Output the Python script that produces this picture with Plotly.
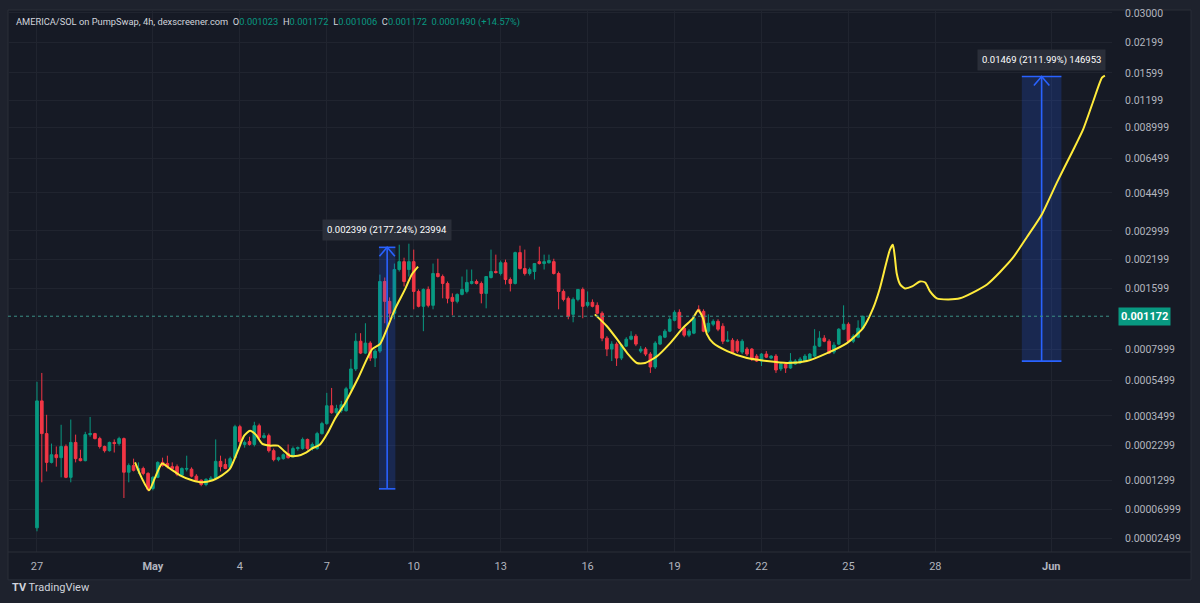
import math
import numpy as np
import pandas as pd
import plotly.graph_objects as go

# AMERICA/SOL 4h candles, prices in micro-SOL (1e-6)
START = pd.Timestamp("2025-04-27 00:00")
UNIT = 1e-6
OFFSET = 0.0001  # TradingView log scale behaves like log(price + offset)

open_u = [40, 426, 274, 177, 200, 191, 227, 137, 241, 188,
          182, 270, 274, 255, 227, 213, 241, 237, 255, 150,
          168, 155, 160, 147, 111, 137, 177, 174, 165, 165,
          142, 158, 158, 140, 130, 120, 130, 135, 180, 171,
          163, 191, 302, 234, 244, 234, 306, 259, 266, 213,
          185, 188, 204, 194, 220, 220, 252, 220, 220, 274,
          315, 400, 365, 375, 375, 497, 634, 880, 766, 861,
          722, 784, 1727, 1385, 1212, 1970, 2147, 1970, 2147, 1547,
          1310, 1582, 1325, 1886, 1824, 1690, 1448, 1385, 1497, 1547,
          1690, 1727, 1690, 1514, 1805, 1927, 1886, 2122, 1765, 1690,
          2369, 1991, 1886, 1927, 2147, 2103, 2122, 2147, 1886, 1547,
          1433, 1197, 1416, 1582, 1325, 1370, 1325, 1212, 912, 803,
          851, 722, 831, 901, 933, 784, 803, 757, 649, 851,
          922, 988, 1119, 1225, 1023, 944, 966, 1267, 1238, 988,
          1070, 1106, 1046, 880, 890, 880, 775, 803, 803, 739,
          697, 757, 722, 739, 634, 673, 641, 673, 681, 697,
          713, 739, 831, 912, 880, 775, 851, 1011, 1070, 880,
          922, 1023]
high_u = [542, 604, 355, 237, 227, 310, 234, 333, 270, 216,
          281, 345, 277, 262, 230, 244, 252, 262, 259, 174,
          188, 177, 165, 150, 140, 180, 191, 197, 177, 171,
          163, 197, 163, 145, 132, 135, 140, 252, 197, 188,
          194, 310, 310, 248, 262, 323, 315, 277, 274, 220,
          194, 204, 234, 227, 227, 259, 255, 241, 281, 323,
          472, 502, 405, 426, 509, 713, 966, 966, 1082, 880,
          803, 1863, 1805, 1448, 2103, 2581, 2242, 2610, 2448, 1582,
          1600, 1635, 2103, 2217, 1865, 1727, 1514, 1514, 1824, 1970,
          1970, 1765, 1727, 1824, 2448, 2318, 2172, 2196, 1805, 2394,
          2554, 2448, 2012, 2103, 2527, 2318, 2318, 2217, 1927, 1582,
          1464, 1448, 1582, 1617, 1547, 1416, 1370, 1238, 933, 880,
          870, 851, 922, 988, 955, 831, 822, 775, 880, 944,
          1011, 1158, 1253, 1267, 1046, 1011, 1171, 1325, 1267, 1197,
          1132, 1132, 1082, 988, 912, 901, 901, 822, 812, 757,
          766, 784, 748, 757, 689, 689, 766, 713, 730, 757,
          766, 1011, 988, 944, 901, 870, 1023, 1325, 1094, 955,
          1119, 1172]
low_u = [35, 125, 152, 174, 165, 137, 135, 125, 177, 180,
         180, 262, 252, 220, 207, 210, 207, 230, 91, 125,
         152, 145, 142, 105, 107, 135, 165, 160, 158, 140,
         140, 152, 137, 128, 116, 116, 128, 130, 152, 158,
         158, 188, 234, 223, 230, 227, 252, 255, 207, 180,
         180, 185, 188, 191, 213, 216, 216, 213, 216, 270,
         310, 360, 350, 365, 370, 484, 618, 757, 757, 697,
         649, 767, 1082, 1132, 1132, 1927, 1635, 1824, 1267, 1295,
         988, 1295, 1267, 1805, 1433, 1355, 1184, 1355, 1481, 1514,
         1672, 1672, 1355, 1281, 1785, 1886, 1845, 1672, 1547, 1672,
         1970, 1845, 1845, 1765, 2080, 1970, 2103, 1865, 1267, 1385,
         1132, 1094, 1385, 1145, 1295, 1295, 1197, 880, 739, 697,
         657, 705, 822, 890, 831, 766, 739, 604, 634, 841,
         912, 977, 1106, 1011, 922, 922, 955, 1225, 977, 966,
         1046, 988, 851, 870, 757, 766, 757, 739, 697, 689,
         657, 722, 713, 604, 618, 604, 634, 665, 673, 689,
         705, 730, 822, 870, 757, 757, 841, 1000, 870, 861,
         912, 1006]
close_u = [426, 274, 177, 200, 191, 227, 137, 241, 188, 182,
           270, 274, 255, 227, 213, 241, 237, 255, 150, 168,
           155, 160, 147, 109, 137, 177, 168, 165, 160, 145,
           160, 160, 140, 130, 120, 132, 135, 180, 165, 160,
           188, 302, 244, 241, 234, 306, 259, 266, 213, 185,
           191, 200, 191, 220, 223, 252, 220, 234, 274, 315,
           400, 365, 385, 405, 497, 634, 880, 766, 861, 722,
           784, 1727, 1385, 1212, 1970, 2147, 1727, 2147, 1547, 1310,
           1582, 1325, 1886, 1824, 1690, 1433, 1385, 1497, 1582, 1709,
           1727, 1690, 1514, 1824, 1927, 1906, 2122, 1765, 1690, 2369,
           1991, 1886, 1970, 2103, 2103, 2147, 2172, 1886, 1547, 1416,
           1171, 1416, 1582, 1310, 1370, 1310, 1212, 912, 803, 851,
           722, 841, 901, 933, 851, 803, 757, 649, 861, 933,
           988, 1132, 1225, 1023, 944, 988, 1145, 1238, 988, 1082,
           1106, 1011, 880, 890, 766, 784, 880, 757, 713, 697,
           757, 730, 739, 626, 673, 641, 697, 697, 713, 739,
           757, 831, 912, 880, 766, 841, 1011, 1070, 880, 933,
           1023, 1172]

# hand-drawn yellow projection lines: x in 4h-bar units from START, price in micro-SOL
curve1_bar = [20.3, 21.7, 23.2, 24.4, 25.9, 27.5, 29.6, 32.1, 34.2, 36.4,
              38.3, 40.0, 41.6, 42.9, 44.1, 45.3, 46.6, 48.2, 49.9, 51.1,
              52.4, 54.0, 55.7, 56.9, 58.6, 60.2, 61.7, 63.8, 66.5, 69.4,
              71.0, 72.0, 74.1, 76.2, 77.6, 78.9]
curve1_u = [177, 135, 107, 135, 174, 160, 142, 130, 125, 130,
            142, 160, 213, 266, 285, 270, 237, 230, 230, 213,
            197, 197, 207, 220, 234, 277, 337, 415, 568, 803,
            851, 955, 1267, 1582, 1865, 2034]
curve2_bar = [115.5, 118.0, 120.1, 122.2, 124.2, 125.9, 128.4, 131.1, 133.7, 135.8,
              136.9, 137.9, 138.7, 140.0, 142.9, 147.0, 151.1, 155.3, 159.4, 163.6,
              167.7, 171.0, 173.1, 174.5, 175.8, 176.6, 177.2, 177.6, 178.0, 178.7,
              179.7, 181.2, 182.8, 183.9, 184.9, 186.3, 188.6, 191.1, 196.7, 201.9,
              205.0, 208.1, 211.2, 214.3, 216.6, 218.6, 220.5, 221.1]
curve2_u = [1197, 1046, 901, 766, 681, 681, 739, 861, 1023, 1145,
            1253, 1145, 955, 861, 784, 722, 697, 681, 697, 766,
            861, 1023, 1281, 1600, 2103, 2448, 2581, 2267, 1886, 1672,
            1600, 1635, 1727, 1709, 1547, 1433, 1416, 1433, 1672, 2217,
            2813, 3598, 5052, 6937, 8830, 11717, 15212, 15537]

# price range measurements (bar units for x, SOL for prices)
measure_bars = [(70.8, 72.5, 74.2), (203.9, 208.0, 212.1)]
measure_low = [0.0001102, 0.000696]
measure_high = [0.0025092, 0.015386]
measure_text = ["0.002399 (2177.24%) 23994", "0.01469 (2111.99%) 146953"]

price_ticks = [0.03, 0.02199, 0.01599, 0.01199, 0.008999, 0.006499, 0.004499,
               0.002999, 0.002199, 0.001599, 0.0007999, 0.0005499, 0.0003499,
               0.0002299, 0.0001299, 0.00006999, 0.00002499]
price_tick_text = ["0.03000", "0.02199", "0.01599", "0.01199", "0.008999", "0.006499",
                   "0.004499", "0.002999", "0.002199", "0.001599", "0.0007999",
                   "0.0005499", "0.0003499", "0.0002299", "0.0001299",
                   "0.00006999", "0.00002499"]
date_ticks = ["2025-04-27", "2025-05-01", "2025-05-04", "2025-05-07", "2025-05-10",
              "2025-05-13", "2025-05-16", "2025-05-19", "2025-05-22", "2025-05-25",
              "2025-05-28", "2025-06-01"]
date_tick_text = ["27", "<b>May</b>", "4", "7", "10", "13", "16", "19", "22", "25",
                  "28", "<b>Jun</b>"]

last_price = 0.001172

UP = "#089981"
DOWN = "#f23645"
BLUE = "#2962ff"
YELLOW = "#ffeb3b"


def bar_time(bars):
    return START + pd.to_timedelta(np.asarray(bars, dtype=float) * 4, unit="h")


def shifted(values):
    return np.asarray(values, dtype=float) + OFFSET


times = pd.date_range(START, periods=len(open_u), freq="4h")

fig = go.Figure()

# measurement boxes go underneath the candles
for (x0, xm, x1), lo, hi, label in zip(measure_bars, measure_low, measure_high, measure_text):
    t0, tm, t1 = bar_time([x0, xm, x1])
    fig.add_trace(go.Scatter(
        x=[t0, t1, t1, t0, t0], y=shifted([lo, lo, hi, hi, lo]),
        mode="lines", fill="toself", fillcolor="rgba(41,98,255,0.20)",
        line=dict(width=0), hoverinfo="skip"))
    fig.add_trace(go.Scatter(
        x=[t0, t1, None, tm, tm, None, t0, t1], y=shifted([lo, lo, np.nan, lo, hi, np.nan, hi, hi]),
        mode="lines", line=dict(color=BLUE, width=1.6), connectgaps=False, hoverinfo="skip"))
    # arrow head at the top
    head_y = (hi + OFFSET) * 10 ** (-9 / 222) - OFFSET
    ta, tb = bar_time([xm - 1.6, xm + 1.6])
    fig.add_trace(go.Scatter(
        x=[ta, tm, tb], y=shifted([head_y, hi, head_y]),
        mode="lines", line=dict(color=BLUE, width=1.6), hoverinfo="skip"))
    fig.add_annotation(
        x=tm, y=math.log10(hi + OFFSET), yshift=17, text=label, showarrow=False,
        font=dict(size=9.5, color="#ffffff"), bgcolor="#2a2e39", borderpad=4)

fig.add_trace(go.Candlestick(
    x=times,
    open=shifted(np.array(open_u) * UNIT),
    high=shifted(np.array(high_u) * UNIT),
    low=shifted(np.array(low_u) * UNIT),
    close=shifted(np.array(close_u) * UNIT),
    increasing=dict(line=dict(color=UP, width=1), fillcolor=UP),
    decreasing=dict(line=dict(color=DOWN, width=1), fillcolor=DOWN),
    whiskerwidth=0, hoverinfo="skip"))

for bars, vals in [(curve1_bar, curve1_u), (curve2_bar, curve2_u)]:
    fig.add_trace(go.Scatter(
        x=bar_time(bars), y=shifted(np.array(vals) * UNIT),
        mode="lines", line=dict(color=YELLOW, width=2, shape="spline", smoothing=0.6),
        hoverinfo="skip"))

# last price dotted line
x_range = bar_time([-6.0, 222.57])
fig.add_trace(go.Scatter(
    x=list(x_range), y=shifted([last_price, last_price]),
    mode="lines", line=dict(color="#3b8f86", width=1, dash="dot"), hoverinfo="skip"))

fig.add_annotation(
    x=1, xref="paper", xanchor="left", xshift=6,
    y=math.log10(last_price + OFFSET), text="<b>0.001172</b>", showarrow=False,
    font=dict(size=11, color="#ffffff"), bgcolor=UP, borderpad=2)

title = ("AMERICA/SOL on PumpSwap, 4h, dexscreener.com&nbsp; "
         "O<span style='color:#089981'>0.001023</span>&nbsp; "
         "H<span style='color:#089981'>0.001172</span>&nbsp; "
         "L<span style='color:#089981'>0.001006</span>&nbsp; "
         "C<span style='color:#089981'>0.001172</span>&nbsp; "
         "<span style='color:#089981'>0.0001490 (+14.57%)</span>")
fig.add_annotation(
    x=0.0055, y=0.978, xref="paper", yref="paper", xanchor="left", yanchor="middle",
    text=title, showarrow=False, font=dict(size=9.3, color="#d1d4dc"))

fig.add_annotation(
    x=0.002, y=-0.066, xref="paper", yref="paper", xanchor="left", yanchor="middle",
    text="<b>TV</b> TradingView", showarrow=False, font=dict(size=11, color="#d1d4dc"))

# chart panel behind the plot, with the time-axis strip and price-axis column
fig.add_shape(type="rect", xref="paper", yref="paper", x0=0, x1=1.0716, y0=-0.0514, y1=1.0,
              fillcolor="#161a25", line=dict(color="#2a2e39", width=1), layer="below")
fig.add_shape(type="line", xref="paper", yref="paper", x0=0, x1=1.0716, y0=0, y1=0,
              line=dict(color="#2a2e39", width=1))

fig.update_layout(
    width=1200, height=603,
    margin=dict(l=8, r=88, t=7, b=51),
    paper_bgcolor="#1e222d",
    plot_bgcolor="#161a25",
    showlegend=False,
    boxgap=0.22,
    font=dict(family="Roboto, 'Noto Sans', sans-serif", size=11, color="#b2b5be"),
    xaxis=dict(
        type="date", range=list(x_range), rangeslider=dict(visible=False),
        tickvals=pd.to_datetime(date_ticks), ticktext=date_tick_text,
        showgrid=True, gridcolor="#20242f", zeroline=False, showline=False,
        ticks="", ticklabelstandoff=6, tickfont=dict(size=11, color="#b2b5be")),
    yaxis=dict(
        type="log", side="right", range=[-3.9634, -1.5086],
        tickvals=shifted(price_ticks), ticktext=price_tick_text,
        showgrid=True, gridcolor="#20242f", zeroline=False, showline=False,
        ticks="", ticklabelstandoff=12, tickfont=dict(size=10.5, color="#b2b5be")),
)

# drop the browser's default body margin so the figure sits at the page corner
fig.write_html("out.html", config={"displayModeBar": False},
               post_script="document.body.style.margin='0px';")
